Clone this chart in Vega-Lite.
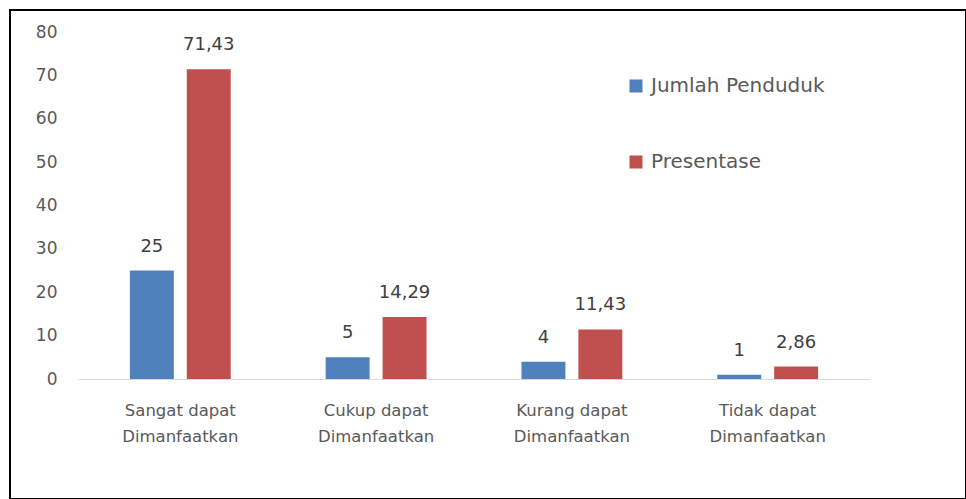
{
  "$schema": "https://vega.github.io/schema/vega-lite/v6.json",
  "width": 956,
  "height": 489,
  "autosize": {"type": "none"},
  "padding": {"left": 10, "top": 10, "right": 0, "bottom": 0},
  "background": "white",
  "config": {
    "view": {"stroke": "#000000", "strokeWidth": 2},
    "font": "DejaVu Sans"
  },
  "data": {
    "values": [
      {"kategori": "Sangat dapat Dimanfaatkan", "seri": "Jumlah Penduduk", "nilai": 25, "label": "25"},
      {"kategori": "Sangat dapat Dimanfaatkan", "seri": "Presentase", "nilai": 71.43, "label": "71,43"},
      {"kategori": "Cukup dapat Dimanfaatkan", "seri": "Jumlah Penduduk", "nilai": 5, "label": "5"},
      {"kategori": "Cukup dapat Dimanfaatkan", "seri": "Presentase", "nilai": 14.29, "label": "14,29"},
      {"kategori": "Kurang dapat Dimanfaatkan", "seri": "Jumlah Penduduk", "nilai": 4, "label": "4"},
      {"kategori": "Kurang dapat Dimanfaatkan", "seri": "Presentase", "nilai": 11.43, "label": "11,43"},
      {"kategori": "Tidak dapat Dimanfaatkan", "seri": "Jumlah Penduduk", "nilai": 1, "label": "1"},
      {"kategori": "Tidak dapat Dimanfaatkan", "seri": "Presentase", "nilai": 2.86, "label": "2,86"}
    ]
  },
  "encoding": {
    "x": {
      "field": "kategori",
      "type": "nominal",
      "sort": ["Sangat dapat Dimanfaatkan", "Cukup dapat Dimanfaatkan", "Kurang dapat Dimanfaatkan", "Tidak dapat Dimanfaatkan"],
      "scale": {"range": [68, 860], "paddingInner": 0.485, "paddingOuter": 0.265},
      "axis": {
        "title": null,
        "orient": "bottom",
        "offset": -120,
        "ticks": false,
        "domainColor": "#D9D9D9",
        "domainWidth": 1,
        "labelAngle": 0,
        "labelFontSize": 16.5,
        "labelColor": "#595959",
        "labelPadding": 23,
        "labelLineHeight": 26,
        "labelExpr": "[replace(datum.label, ' Dimanfaatkan', ''), 'Dimanfaatkan']"
      }
    },
    "xOffset": {
      "field": "seri",
      "type": "nominal",
      "sort": ["Jumlah Penduduk", "Presentase"],
      "scale": {"paddingInner": 0.228, "paddingOuter": 0}
    },
    "y": {
      "field": "nilai",
      "type": "quantitative",
      "scale": {"domain": [0, 80], "range": [369, 22], "nice": false},
      "axis": {
        "title": null,
        "orient": "left",
        "offset": -47,
        "ticks": false,
        "domain": false,
        "grid": false,
        "values": [0, 10, 20, 30, 40, 50, 60, 70, 80],
        "labelPadding": 0,
        "labelFontSize": 17,
        "labelColor": "#595959"
      }
    }
  },
  "layer": [
    {
      "mark": {"type": "bar"},
      "encoding": {
        "color": {
          "field": "seri",
          "type": "nominal",
          "sort": ["Jumlah Penduduk", "Presentase"],
          "scale": {"domain": ["Jumlah Penduduk", "Presentase"], "range": ["#4F81BD", "#C0504D"]},
          "legend": {
            "title": null,
            "orient": "none",
            "legendX": 616,
            "legendY": 66,
            "direction": "vertical",
            "symbolType": "square",
            "symbolSize": 169,
            "symbolStrokeWidth": 0,
            "labelFontSize": 20,
            "labelLimit": 400,
            "labelColor": "#595959",
            "labelOffset": 5,
            "rowPadding": 56,
            "padding": 0
          }
        }
      }
    },
    {
      "mark": {"type": "text", "align": "center", "baseline": "alphabetic", "dy": -19, "fontSize": 18, "color": "#404040"},
      "encoding": {
        "text": {"field": "label"}
      }
    }
  ]
}
